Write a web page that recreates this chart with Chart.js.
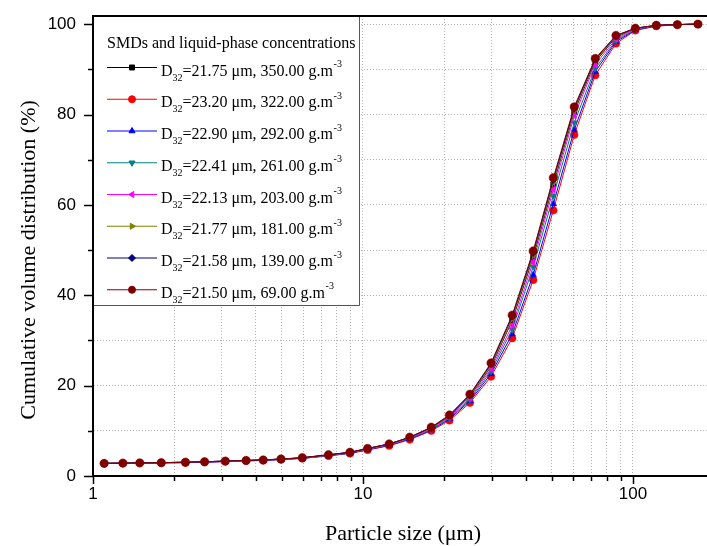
<!DOCTYPE html>
<html>
<head>
<meta charset="utf-8">
<title>Particle size distribution</title>
<script src="https://cdn.jsdelivr.net/npm/chart.js@4/dist/chart.umd.min.js"></script>
<style>
  html, body { margin: 0; padding: 0; background: #fff; }
  #psdChart { display: block; }
</style>
</head>
<body>
<canvas id="psdChart" width="707" height="546"></canvas>
<script>
// Particle size bins (µm)
const particleSizes = [1.10, 1.29, 1.49, 1.79, 2.20, 2.59, 3.09, 3.69, 4.27, 4.97,
  5.96, 7.45, 8.95, 10.4, 12.5, 14.9, 17.9, 20.9, 24.9, 29.8,
  35.7, 42.7, 50.7, 60.6, 72.5, 86.5, 102, 122, 146, 174];

// Cumulative volume (%) for each liquid-phase concentration
const cum350 = [2.8, 2.85, 2.9, 2.95, 3.05, 3.15, 3.3, 3.45, 3.55, 3.75, 4.0, 4.65, 5.2, 6.05, 7.05, 8.5, 10.6, 13.2, 17.6, 24.2, 34.4, 48.4, 64.5, 80.6, 91.7, 97.1, 99.0, 99.7, 99.9, 100];
const cum322 = [2.75, 2.8, 2.85, 2.9, 2.95, 3.05, 3.2, 3.35, 3.45, 3.65, 3.9, 4.45, 5.0, 5.75, 6.7, 8.05, 10.0, 12.3, 16.2, 22.0, 30.5, 43.4, 58.8, 75.5, 88.7, 95.7, 98.6, 99.55, 99.85, 100];
const cum292 = [2.75, 2.8, 2.85, 2.9, 2.95, 3.05, 3.2, 3.35, 3.45, 3.65, 3.9, 4.5, 5.05, 5.8, 6.8, 8.2, 10.15, 12.6, 16.6, 22.6, 31.4, 44.5, 60.2, 76.6, 89.5, 96.1, 98.7, 99.6, 99.9, 100];
const cum261 = [2.8, 2.85, 2.9, 2.95, 3.0, 3.1, 3.25, 3.4, 3.5, 3.7, 3.95, 4.55, 5.1, 5.9, 6.9, 8.3, 10.3, 12.8, 16.9, 23.2, 32.4, 46.3, 62.0, 78.2, 90.2, 96.4, 98.8, 99.65, 99.9, 100];
const cum203 = [2.8, 2.85, 2.9, 2.95, 3.0, 3.1, 3.25, 3.4, 3.5, 3.7, 3.95, 4.6, 5.15, 5.95, 6.95, 8.4, 10.45, 13.0, 17.2, 23.7, 33.3, 47.4, 63.4, 79.7, 91.1, 96.7, 98.9, 99.7, 99.9, 100];
const cum181 = [2.8, 2.85, 2.9, 2.95, 3.05, 3.15, 3.3, 3.45, 3.55, 3.75, 4.0, 4.65, 5.2, 6.05, 7.05, 8.5, 10.65, 13.25, 17.7, 24.4, 34.7, 48.8, 64.9, 80.9, 91.9, 97.2, 99.0, 99.7, 99.9, 100];
const cum139 = [2.8, 2.85, 2.9, 2.95, 3.05, 3.15, 3.3, 3.45, 3.55, 3.75, 4.05, 4.7, 5.25, 6.1, 7.1, 8.55, 10.75, 13.4, 17.95, 24.8, 35.3, 49.4, 65.6, 81.4, 92.2, 97.4, 99.1, 99.75, 99.9, 100];
const cum69 = [2.8, 2.85, 2.9, 2.95, 3.05, 3.15, 3.3, 3.45, 3.55, 3.75, 4.05, 4.7, 5.25, 6.1, 7.1, 8.6, 10.8, 13.5, 18.1, 25.0, 35.6, 49.8, 66.0, 81.7, 92.4, 97.5, 99.1, 99.75, 99.9, 100];

// Legend text parts: Sauter mean diameters and concentrations
const smdValues = ['21.75', '23.20', '22.90', '22.41', '22.13', '21.77', '21.58', '21.50'];
const concValues = ['350.00', '322.00', '292.00', '261.00', '203.00', '181.00', '139.00', '69.00'];
const seriesData = [cum350, cum322, cum292, cum261, cum203, cum181, cum139, cum69];

// Axis ticks
const xTickValues = [1, 2, 3, 4, 5, 6, 7, 8, 9, 10, 20, 30, 40, 50, 60, 70, 80, 90, 100];
const xTickLabels = ['1', '10', '100'];
const yTickValues = [0, 10, 20, 30, 40, 50, 60, 70, 80, 90, 100];
const yTickLabels = ['0', '20', '40', '60', '80', '100'];

const legendTitle = 'SMDs and liquid-phase concentrations';
const xTitle = 'Particle size (\u03bcm)';
const yTitle = 'Cumulative volume distribution (%)';

document.addEventListener('DOMContentLoaded', function() {
    const colors = ['#000000', '#ff0000', '#0000ff', '#008080', '#ff00ff', '#808000', '#000080', '#800000'];
    const markers = [
        { style: 'rect', rotation: 0 },
        { style: 'circle', rotation: 0 },
        { style: 'triangle', rotation: 0 },
        { style: 'triangle', rotation: 180 },   // down
        { style: 'triangle', rotation: 270 },   // left
        { style: 'triangle', rotation: 90 },    // right
        { style: 'rectRot', rotation: 0 },      // diamond
        { style: 'circle', rotation: 0 }
    ];

    const serif = '"Liberation Serif", "Times New Roman", serif';
    const sans = '"Liberation Sans", Arial, sans-serif';

    const datasets = seriesData.map(function(values, i) {
        return {
            label: 'D32=' + smdValues[i] + ' \u03bcm, ' + concValues[i] + ' g.m-3',
            data: values.map(function(v, j) { return { x: particleSizes[j], y: v }; }),
            borderColor: colors[i],
            backgroundColor: colors[i],
            borderWidth: 1,
            pointRadius: i === 7 ? 4.2 : 3.8,
            pointStyle: markers[i].style,
            rotation: markers[i].rotation,
            pointBorderWidth: 0.5,
            pointBackgroundColor: colors[i],
            pointBorderColor: colors[i],
            tension: 0,
            order: seriesData.length - 1 - i  // last series ends up on top
        };
    });

    // Outward tick marks, top frame line, legend box and axis titles
    const decorations = {
        id: 'decorations',
        afterDraw(chart) {
            const ctx = chart.ctx;
            const area = chart.chartArea;
            const xs = chart.scales.x;
            const ys = chart.scales.y;
            ctx.save();

            // tick marks
            ctx.strokeStyle = '#000';
            ctx.lineWidth = 1.5;
            ctx.beginPath();
            xTickValues.forEach(function(v) {
                const px = Math.round(xs.getPixelForValue(v)) + 0.5;
                const len = Number.isInteger(Math.log10(v)) ? 8 : 5;
                ctx.moveTo(px, area.bottom);
                ctx.lineTo(px, area.bottom + len);
            });
            yTickValues.forEach(function(v) {
                const py = Math.round(ys.getPixelForValue(v)) + 0.5;
                const len = v % 20 === 0 ? 9 : 5;
                ctx.moveTo(area.left, py);
                ctx.lineTo(area.left - len, py);
            });
            ctx.stroke();

            // top frame
            ctx.lineWidth = 2;
            ctx.beginPath();
            ctx.moveTo(area.left - 1, area.top);
            ctx.lineTo(area.right, area.top);
            ctx.stroke();

            // legend box
            const boxRight = 359.5, boxBottom = 305.5;
            ctx.fillStyle = '#fff';
            ctx.fillRect(area.left + 1, area.top + 1, boxRight - area.left - 1, boxBottom - area.top - 1);
            ctx.strokeStyle = '#555';
            ctx.lineWidth = 1;
            ctx.beginPath();
            ctx.moveTo(area.left + 1, boxBottom);
            ctx.lineTo(boxRight, boxBottom);
            ctx.lineTo(boxRight, area.top + 1);
            ctx.stroke();

            ctx.fillStyle = '#000';
            ctx.textBaseline = 'alphabetic';
            ctx.textAlign = 'left';
            ctx.font = '16px ' + serif;
            ctx.fillText(legendTitle, 107, 48);

            const drawPoint = Chart.helpers && Chart.helpers.drawPoint;
            datasets.forEach(function(ds, i) {
                const rowY = 67.5 + i * 31.75;
                const base = rowY + 8;
                ctx.strokeStyle = colors[i];
                ctx.fillStyle = colors[i];
                ctx.lineWidth = 1;
                ctx.beginPath();
                ctx.moveTo(107, rowY);
                ctx.lineTo(157, rowY);
                ctx.stroke();
                if (drawPoint) {
                    drawPoint(ctx, { pointStyle: markers[i].style, rotation: markers[i].rotation, radius: 3.5, borderWidth: 0.5 }, 132, rowY);
                } else {
                    ctx.beginPath();
                    ctx.arc(132, rowY, 3.5, 0, Math.PI * 2);
                    ctx.fill();
                }

                // D with subscript 32 and g.m with superscript -3
                ctx.fillStyle = '#000';
                let x = 161;
                ctx.font = '16px ' + serif;
                ctx.fillText('D', x, base);
                x += ctx.measureText('D').width;
                ctx.font = '10px ' + serif;
                ctx.fillText('32', x, base + 5);
                x += ctx.measureText('32').width;
                ctx.font = '16px ' + serif;
                const body = '=' + smdValues[i] + ' \u03bcm, ' + concValues[i] + ' g.m';
                ctx.fillText(body, x, base);
                x += ctx.measureText(body).width;
                ctx.font = '10px ' + serif;
                ctx.fillText('-3', x + 0.5, base - 8.5);
            });

            // axis titles
            ctx.fillStyle = '#000';
            ctx.font = '22px ' + serif;
            ctx.textAlign = 'center';
            ctx.fillText(xTitle, (area.left + area.right) / 2 + 3, 539.5);
            ctx.save();
            ctx.translate(35, 260);
            ctx.rotate(-Math.PI / 2);
            ctx.fillText(yTitle, 0, 0);
            ctx.restore();

            ctx.restore();
        }
    };

    new Chart(document.getElementById('psdChart'), {
        type: 'line',
        data: { datasets: datasets },
        options: {
            responsive: false,
            animation: false,
            events: [],
            layout: { autoPadding: false, padding: { top: 16, right: 0, bottom: 0, left: 0 } },
            plugins: {
                legend: { display: false },
                tooltip: { enabled: false }
            },
            scales: {
                x: {
                    type: 'logarithmic',
                    min: 1,
                    max: 188,
                    afterBuildTicks: function(scale) {
                        scale.ticks = xTickValues.map(function(v) { return { value: v }; });
                    },
                    afterFit: function(scale) { scale.height = 70; },
                    ticks: {
                        autoSkip: false,
                        maxRotation: 0,
                        padding: 8,
                        color: '#000',
                        font: { family: sans, size: 17 },
                        callback: function(value) {
                            const s = String(value);
                            return xTickLabels.indexOf(s) >= 0 ? s : '';
                        }
                    },
                    grid: {
                        color: '#b4b4b4',
                        lineWidth: 1,
                        drawTicks: false
                    },
                    border: { display: true, color: '#000', width: 2, dash: [1, 2] }
                },
                y: {
                    type: 'linear',
                    min: 0,
                    max: 101.8,
                    afterBuildTicks: function(scale) {
                        scale.ticks = yTickValues.map(function(v) { return { value: v }; });
                    },
                    afterFit: function(scale) {
                        scale.width = 93;
                        // the top label may overhang the plot; no extra room needed
                        scale.paddingTop = 0;
                        scale.paddingBottom = 0;
                    },
                    ticks: {
                        autoSkip: false,
                        padding: 17,
                        color: '#000',
                        font: { family: sans, size: 17 },
                        callback: function(value) {
                            const s = String(value);
                            return yTickLabels.indexOf(s) >= 0 ? s : '';
                        }
                    },
                    grid: {
                        color: '#b4b4b4',
                        lineWidth: 1,
                        drawTicks: false
                    },
                    border: { display: true, color: '#000', width: 2, dash: [1, 2] }
                }
            }
        },
        plugins: [decorations]
    });
});
</script>
</body>
</html>
